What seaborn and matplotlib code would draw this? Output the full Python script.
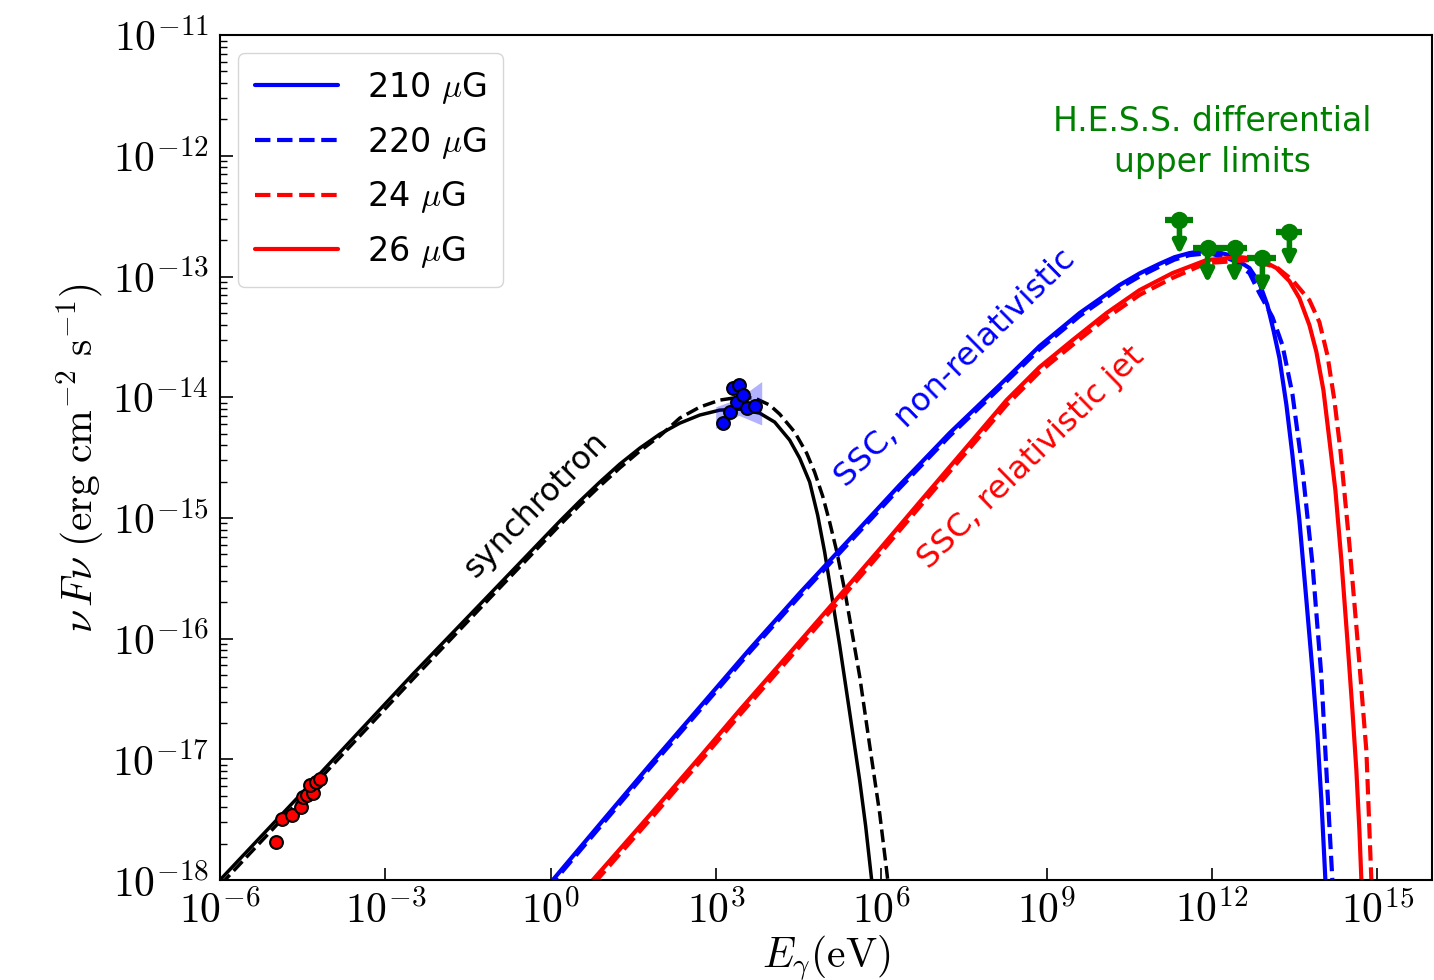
import numpy as np
import pandas as pd
import matplotlib
matplotlib.use("Agg")
import matplotlib.pyplot as plt
import seaborn as sns
from matplotlib.ticker import FixedLocator, FuncFormatter, LogLocator, NullLocator

# ---------------- data (log10 E[eV], log10 nuFnu [erg cm^-2 s^-1]) ----------------
sync_solid_logE = [-6.2, -6.0, -4.549, -2.500, -1.103, 0.166, 0.529, 0.892, 1.254, 1.617, 1.980,
                   2.343, 2.705, 3.068, 3.431, 3.793, 4.065, 4.337, 4.519, 4.700, 4.845, 4.972,
                   5.099, 5.244, 5.425, 5.607, 5.716, 5.825, 5.879]
sync_solid_logF = [-18.10, -18.0, -17.297, -16.294, -15.631, -15.027, -14.861, -14.703, -14.554,
                   -14.422, -14.306, -14.215, -14.148, -14.107, -14.099, -14.132, -14.206, -14.355,
                   -14.505, -14.703, -14.977, -15.283, -15.640, -16.054, -16.609, -17.172, -17.553,
                   -18.0, -18.208]

sync_dash_logE = [-6.2, -5.909, -4.549, -2.500, -1.103, 0.166, 0.529, 0.892, 1.254, 1.617, 1.980,
                  2.343, 2.705, 3.068, 3.431, 3.703, 3.975, 4.156, 4.428, 4.645, 4.790, 4.936,
                  5.063, 5.190, 5.335, 5.462, 5.607, 5.788, 5.970, 6.096, 6.169]
sync_dash_logF = [-18.15, -18.0, -17.338, -16.336, -15.665, -15.060, -14.894, -14.737, -14.587,
                  -14.447, -14.322, -14.173, -14.082, -14.024, -13.999, -14.007, -14.065, -14.140,
                  -14.289, -14.463, -14.621, -14.819, -15.035, -15.275, -15.598, -15.930, -16.311,
                  -16.882, -17.446, -17.918, -18.208]

ssc210_logE = [-0.10, 0.039, 0.892, 1.798, 2.705, 3.612, 4.519, 5.425, 6.332, 7.239, 8.146, 8.871,
               9.597, 10.322, 10.685, 11.048, 11.320, 11.592, 11.954, 12.317, 12.680, 12.861,
               13.006, 13.115, 13.224, 13.351, 13.460, 13.586, 13.713, 13.822, 13.913, 13.985,
               14.040, 14.076]
ssc210_logF = [-18.077, -18.0, -17.537, -17.048, -16.568, -16.087, -15.623, -15.176, -14.728,
               -14.297, -13.900, -13.577, -13.303, -13.071, -12.975, -12.895, -12.840, -12.806,
               -12.781, -12.823, -12.930, -13.055, -13.237, -13.444, -13.676, -14.065, -14.480,
               -15.018, -15.681, -16.261, -16.800, -17.338, -17.835, -18.167]

ssc220_logE = [-0.05, 0.08, 0.892, 1.798, 2.705, 3.612, 4.519, 5.425, 6.332, 7.239, 8.146, 8.871,
               9.597, 10.322, 10.685, 11.048, 11.320, 11.592, 11.954, 12.371, 12.680, 12.861,
               13.097, 13.278, 13.460, 13.641, 13.822, 13.985, 14.094, 14.185, 14.221]
ssc220_logF = [-18.08, -18.0, -17.562, -17.073, -16.593, -16.112, -15.648, -15.201, -14.753,
               -14.322, -13.925, -13.602, -13.328, -13.096, -13.000, -12.918, -12.860, -12.823,
               -12.806, -12.864, -12.972, -13.138, -13.336, -13.568, -13.974, -14.596, -15.375,
               -16.311, -17.247, -18.0, -18.249]

ssc26_logE = [0.70, 0.765, 1.798, 2.705, 3.431, 4.337, 5.063, 5.970, 6.695, 7.656, 8.273, 8.871,
              9.470, 10.086, 10.685, 11.283, 11.900, 12.498, 12.861, 13.169, 13.405, 13.586,
              13.768, 13.895, 14.022, 14.131, 14.239, 14.348, 14.457, 14.548, 14.620, 14.675,
              14.711, 14.747]
ssc26_logF = [-18.035, -18.0, -17.462, -16.982, -16.592, -16.120, -15.739, -15.259, -14.869,
              -14.355, -14.024, -13.751, -13.527, -13.303, -13.113, -12.972, -12.864, -12.839,
              -12.856, -12.930, -13.038, -13.179, -13.403, -13.626, -13.941, -14.355, -14.770,
              -15.350, -16.012, -16.592, -17.090, -17.587, -18.0, -18.332]

ssc24_logE = [0.80, 1.798, 2.705, 3.431, 4.337, 5.063, 5.970, 6.695, 7.656, 8.273, 8.871, 9.470,
              10.086, 10.685, 11.283, 11.900, 12.680, 13.169, 13.460, 13.768, 13.949, 14.094,
              14.221, 14.330, 14.493, 14.638, 14.802, 14.892, 14.929]
ssc24_logF = [-18.02, -17.502, -17.022, -16.632, -16.160, -15.779, -15.299, -14.909, -14.395,
              -14.064, -13.791, -13.567, -13.343, -13.153, -13.012, -12.889, -12.864, -12.922,
              -13.030, -13.196, -13.378, -13.651, -14.024, -14.438, -15.217, -15.996, -16.932,
              -18.0, -18.332]

radio_logE = [-4.984, -4.876, -4.694, -4.531, -4.495, -4.422, -4.313, -4.368, -4.259, -4.186]
radio_logF = [-17.686, -17.495, -17.462, -17.395, -17.313, -17.295, -17.28, -17.213, -17.19, -17.164]

xray_logE = [3.122, 3.249, 3.376, 3.30, 3.41, 3.485, 3.557, 3.70]
xray_logF = [-14.215, -14.124, -14.04, -13.925, -13.90, -13.98, -14.09, -14.07]

bowtie_logE = [2.995, 3.413, 3.83]
bowtie_lo_logF = [-14.26, -14.15, -14.23]
bowtie_hi_logF = [-14.08, -14.01, -13.87]

hess_logE = [11.41, 11.92, 12.41, 12.915, 13.405]
hess_logF = [-12.53, -12.765, -12.765, -12.85, -12.63]
hess_edges_logE = [11.14, 11.65, 12.17, 12.64, 13.17, 13.64]
hess_arrow_dex = 0.29

x_tick_exp = [-6, -3, 0, 3, 6, 9, 12, 15]
y_tick_exp = [-18, -17, -16, -15, -14, -13, -12, -11]

legend_labels = [r"210 $\mu$G", r"220 $\mu$G", r"24 $\mu$G", r"26 $\mu$G"]

# ---------------- style ----------------
sns.set_theme(style="ticks")
plt.rcParams["font.family"] = ["DejaVu Sans"]
plt.rcParams["mathtext.fontset"] = "cm"
plt.rcParams["xtick.direction"] = "in"
plt.rcParams["ytick.direction"] = "in"
plt.rcParams["axes.linewidth"] = 1.5
plt.rcParams["text.color"] = "black"
plt.rcParams["axes.labelcolor"] = "black"
plt.rcParams["xtick.color"] = "black"
plt.rcParams["ytick.color"] = "black"


def p10(a):
    return np.power(10.0, np.asarray(a, dtype=float))


fig = plt.figure(figsize=(14.34, 9.80), dpi=100)
ax = fig.add_axes([0.1534, 0.102, 0.8455, 0.8622])
ax.set_xscale("log")
ax.set_yscale("log")


def draw(logE, logF, color, ls, lw, label=None):
    df = pd.DataFrame({"E": p10(logE), "F": p10(logF)})
    sns.lineplot(data=df, x="E", y="F", ax=ax, color=color, linestyle=ls, lw=lw,
                 sort=False, estimator=None, label=label, legend=False)
    return ax.lines[-1]


draw(sync_solid_logE, sync_solid_logF, "black", "-", 2.5)
draw(sync_dash_logE, sync_dash_logF, "black", "--", 2.5)
h210 = draw(ssc210_logE, ssc210_logF, "blue", "-", 3.0, legend_labels[0])
h220 = draw(ssc220_logE, ssc220_logF, "blue", "--", 3.0, legend_labels[1])
h24 = draw(ssc24_logE, ssc24_logF, "red", "--", 3.0, legend_labels[2])
h26 = draw(ssc26_logE, ssc26_logF, "red", "-", 3.0, legend_labels[3])

# X-ray bowtie and points
ax.fill_between(p10(bowtie_logE), p10(bowtie_lo_logF), p10(bowtie_hi_logF),
                color="blue", alpha=0.3, lw=0, zorder=4)
sns.scatterplot(x=p10(xray_logE), y=p10(xray_logF), ax=ax, color="blue", edgecolor="black",
                s=85, linewidth=1.5, zorder=5, legend=False)
sns.scatterplot(x=p10(radio_logE), y=p10(radio_logF), ax=ax, color="red", edgecolor="black",
                s=85, linewidth=1.5, zorder=5, legend=False)

# H.E.S.S. upper limits
hx = p10(hess_logE)
hy = p10(hess_logF)
edges = p10(hess_edges_logE)
xlo = hx - edges[:-1]
xhi = edges[1:] - hx
ax.errorbar(hx, hy, xerr=[xlo, xhi], fmt="o", color="green", ms=11.5, elinewidth=4.5,
            capsize=0, zorder=6)
for xv, yv in zip(hx, hy):
    ax.annotate("", xy=(xv, yv * 10 ** (-hess_arrow_dex)), xytext=(xv, yv),
                arrowprops=dict(arrowstyle="-|>", color="green", lw=4,
                                mutation_scale=18, shrinkA=0, shrinkB=0), zorder=6)

# axes
ax.set_xlim(1e-6, 10 ** 16.0)
ax.set_ylim(1e-18, 1e-11)
ax.xaxis.set_major_locator(FixedLocator(p10(x_tick_exp)))
ax.xaxis.set_minor_locator(NullLocator())
ax.yaxis.set_major_locator(FixedLocator(p10(y_tick_exp)))
ax.yaxis.set_minor_locator(LogLocator(base=10, subs=np.arange(2, 10), numticks=100))
fmt = FuncFormatter(lambda v, pos: r"$10^{%d}$" % int(round(np.log10(v))))
ax.xaxis.set_major_formatter(fmt)
ax.yaxis.set_major_formatter(fmt)
ax.yaxis.set_minor_formatter(FuncFormatter(lambda v, pos: ""))
ax.tick_params(axis="both", which="major", labelsize=30, length=9, width=1.2, color="black")
ax.tick_params(axis="y", which="minor", length=5, width=1.0, color="black")
ax.tick_params(axis="y", which="major", pad=8)
ax.tick_params(axis="x", which="major", pad=7)
for s in ax.spines.values():
    s.set_color("black")

ax.set_xlabel(r"$E_{\gamma}(\mathrm{eV})$", fontsize=30)
ax.set_ylabel(r"$\nu\,F\nu\ (\mathrm{erg\ cm^{-2}\ s^{-1}})$", fontsize=30)
ax.xaxis.label.set_va("center")
ax.xaxis.set_label_coords(0.5, -0.0923)
ax.yaxis.label.set_va("center")
ax.yaxis.set_label_coords(-0.1154, 0.5)

# annotations
ax.text(0.2605, 0.4438, "synchrotron", transform=ax.transAxes, rotation=45.5,
        ha="center", va="center", fontsize=23, color="black", rotation_mode="anchor")
ax.text(0.607, 0.606, "SSC, non-relativistic", transform=ax.transAxes, rotation=44.6,
        ha="center", va="center", fontsize=23.3, color="blue", rotation_mode="anchor")
ax.text(0.669, 0.4994, "SSC, relativistic jet", transform=ax.transAxes, rotation=44.4,
        ha="center", va="center", fontsize=23.3, color="red", rotation_mode="anchor")
ax.text(0.8186, 0.873, "H.E.S.S. differential\nupper limits", transform=ax.transAxes,
        ha="center", va="center", multialignment="center", fontsize=23.8, color="green",
        linespacing=1.3)

leg = ax.legend(handles=[h210, h220, h24, h26], labels=legend_labels, loc="upper left",
                fontsize=24, handlelength=2.5, handletextpad=0.85, labelspacing=0.56,
                borderaxespad=0.55, frameon=True, fancybox=True, framealpha=0.8,
                edgecolor="#cccccc", borderpad=0.5)

fig.savefig("out.png", dpi=100)
